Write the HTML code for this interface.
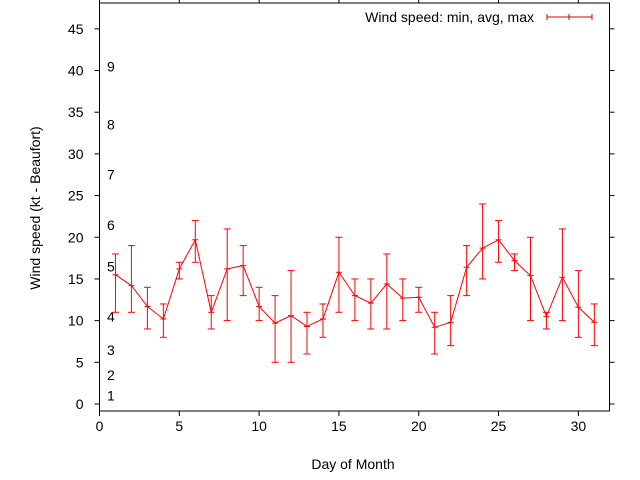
<!DOCTYPE html>
<html><head><meta charset="utf-8"><style>
body{margin:0;background:#fff}
svg{display:block;font-family:"Liberation Sans",sans-serif}
</style></head><body>
<svg id="chart" width="640" height="480" xmlns="http://www.w3.org/2000/svg">
<rect width="640" height="480" fill="#fff"/>
<g id="grid"></g>
<g id="marks"></g>
<text x="0" y="0" font-size="14" text-anchor="middle" transform="translate(40,208) rotate(-90)">Wind speed (kt - Beaufort)</text>
<text x="353" y="469" font-size="14" text-anchor="middle">Day of Month</text>
<g>
<text x="534" y="22" font-size="14" text-anchor="end">Wind speed: min, avg, max</text>
<g stroke="#e00000" stroke-width="1">
<line x1="547" y1="17" x2="592" y2="17"/><line x1="547" y1="14" x2="547" y2="20"/><line x1="592" y1="14" x2="592" y2="20"/><line x1="569" y1="14" x2="569" y2="20"/>
</g></g>
</svg>
<script>
const days=[1,2,3,4,5,6,7,8,9,10,11,12,13,14,15,16,17,18,19,20,21,22,23,24,25,26,27,28,29,30,31];
const avgVals=[15.5,14.2,11.7,10.2,16.2,19.7,11.0,16.2,16.6,11.7,9.7,10.6,9.3,10.2,15.8,13.0,12.1,14.4,12.7,12.8,9.2,9.8,16.4,18.7,19.7,17.2,15.4,10.5,15.2,11.6,9.8];
const minVals=[11,11,9,8,15,17,9,10,13,10,5,5,6,8,11,10,9,9,10,11,6,7,13,15,17,16,10,9,10,8,7];
const maxVals=[18,19,14,12,17,22,13,21,19,14,13,16,11,12,20,15,15,18,15,14,11,13,19,24,22,18,20,11,21,16,12];
const xTicks=[0,5,10,15,20,25,30];
const yTicks=[0,5,10,15,20,25,30,35,40,45];
const beaufortLabels=["1","2","3","4","5","6","7","8","9"];
const beaufortVals=[1,3.5,6.5,10.5,16.5,21.5,27.5,33.5,40.5];
const X0=99.5,X1=609.5,Y0=411,Y1=3;
const xMin=0,xMax=31.95,yMin=-0.84,yMax=48.1;
function sx(v){return X0+(v-xMin)/(xMax-xMin)*(X1-X0);}
function sy(v){return Y0-(v-yMin)/(yMax-yMin)*(Y0-Y1);}
const NS="http://www.w3.org/2000/svg";
const grid=document.getElementById('grid'),marks=document.getElementById('marks');
function mk(p,tag,attrs){const e=document.createElementNS(NS,tag);for(const k in attrs)e.setAttribute(k,attrs[k]);p.appendChild(e);return e;}
const frame=mk(grid,'rect',{x:X0,y:Y1,width:X1-X0,height:Y0-Y1,fill:'none',stroke:'#000','stroke-width':1});


xTicks.forEach(t=>{const x=sx(t);
 mk(grid,'line',{x1:x,y1:Y0,x2:x,y2:Y0+5,stroke:'#000'});
 mk(grid,'line',{x1:x,y1:Y1,x2:x,y2:Y1-5,stroke:'#000'});
 const l=mk(grid,'text',{x:x,y:Y0+20,'font-size':14,'text-anchor':'middle'});l.textContent=t;
 
 });
yTicks.forEach(t=>{const y=sy(t);
 mk(grid,'line',{x1:X0-5,y1:y,x2:X0,y2:y,stroke:'#000'});
 mk(grid,'line',{x1:X1,y1:y,x2:X1+5,y2:y,stroke:'#000'});
 const l=mk(grid,'text',{x:X0-16,y:y+5,'font-size':14,'text-anchor':'end'});l.textContent=t;
 
 });
beaufortLabels.forEach((b,i)=>{const l=mk(grid,'text',{x:107,y:sy(beaufortVals[i])+5,'font-size':14});l.textContent=b;
 
 });
const pts=days.map((d,i)=>sx(d)+','+sy(avgVals[i])).join(' ');
const line=mk(marks,'polyline',{points:pts,fill:'none',stroke:'#ff0000','stroke-width':1});


days.forEach((d,i)=>{const x=sx(d);
 const g=mk(marks,'g',{stroke:'#ff0000','stroke-width':1});
 
 
 mk(g,'line',{x1:x,y1:sy(minVals[i]),x2:x,y2:sy(maxVals[i])});
 mk(g,'line',{x1:x-3.5,y1:sy(minVals[i]),x2:x+3.5,y2:sy(minVals[i])});
 mk(g,'line',{x1:x-3.5,y1:sy(maxVals[i]),x2:x+3.5,y2:sy(maxVals[i])});
 mk(g,'line',{x1:x-3,y1:sy(avgVals[i]),x2:x+3,y2:sy(avgVals[i])});});
</script>
</body></html>
